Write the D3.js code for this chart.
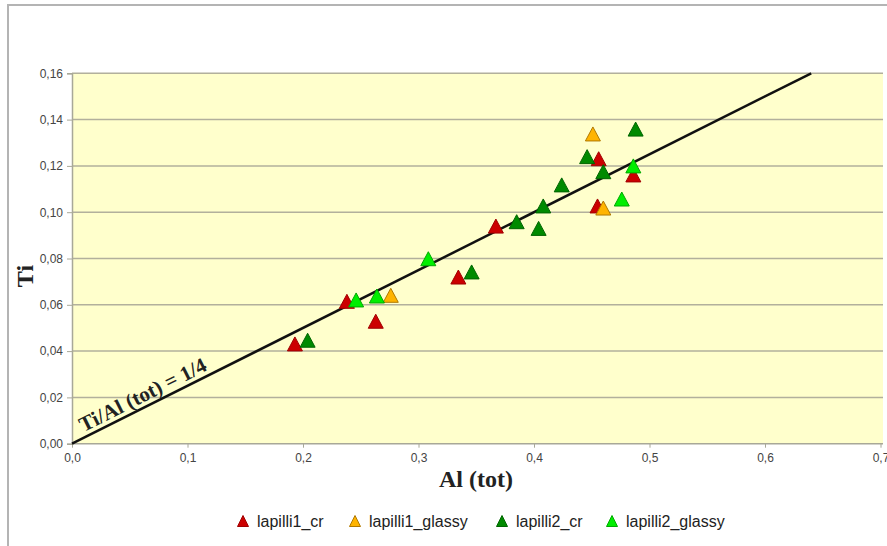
<!DOCTYPE html>
<html>
<head>
<meta charset="utf-8">
<script src="https://cdn.jsdelivr.net/npm/d3@7"></script>
<style>
  body { margin: 0; background: #fff; }
  svg { display: block; }
</style>
</head>
<body>
<div id="chart"></div>
<script>
// values: [Al (tot), Ti]
var lapilli1_cr = [[0.193, 0.0431], [0.238, 0.0615], [0.263, 0.0529], [0.3345, 0.0720],
                   [0.367, 0.0940], [0.456, 0.1231], [0.455, 0.1027], [0.486, 0.1161]];
var lapilli1_glassy = [[0.276, 0.0641], [0.451, 0.1338], [0.460, 0.1018]];
var lapilli2_cr = [[0.204, 0.0447], [0.346, 0.0742], [0.385, 0.0959], [0.404, 0.0930],
                   [0.408, 0.1027], [0.424, 0.1118], [0.446, 0.1240], [0.460, 0.1175],
                   [0.488, 0.1359]];
var lapilli2_glassy = [[0.246, 0.0621], [0.264, 0.0638], [0.3085, 0.0799], [0.476, 0.1057],
                       [0.486, 0.1200]];

var seriesNames = ["lapilli1_cr", "lapilli1_glassy", "lapilli2_cr", "lapilli2_glassy"];
var seriesFill = ["#cc0000", "#ffb400", "#008a00", "#00ee00"];
var seriesStroke = ["#a00000", "#b07800", "#006400", "#00a800"];
var seriesData = [lapilli1_cr, lapilli1_glassy, lapilli2_cr, lapilli2_glassy];

var xTicks = [0, 0.1, 0.2, 0.3, 0.4, 0.5, 0.6, 0.7];
var yTicks = [0, 0.02, 0.04, 0.06, 0.08, 0.10, 0.12, 0.14, 0.16];
var ratioLine = [[0, 0], [0.64, 0.16]];   // Ti/Al = 1/4

var W = 887, H = 546;
var svg = d3.select("#chart").append("svg").attr("width", W).attr("height", H);

// outer chart frame (cut at right/bottom)
svg.append("rect").attr("x", 8).attr("y", 5).attr("width", 1000).attr("height", 1000)
  .attr("fill", "#fff").attr("stroke", "#b4b4b4").attr("stroke-width", 2);

var x = d3.scaleLinear().domain([0, 0.7]).range([72, 880.5]);
var y = d3.scaleLinear().domain([0, 0.16]).range([443.7, 73.3]);

// plot background
svg.append("rect").attr("x", x(0)).attr("y", y(0.16))
  .attr("width", 883 - x(0)).attr("height", y(0) - y(0.16))
  .attr("fill", "#ffffcc");

// horizontal gridlines
svg.append("g").selectAll("line").data(yTicks.slice(1)).enter().append("line")
  .attr("x1", x(0)).attr("x2", 883)
  .attr("y1", function(d) { return y(d); }).attr("y2", function(d) { return y(d); })
  .attr("stroke", "#b2b09c").attr("stroke-width", 1.5);

// axes
var fmt = function(n) { return function(d) { return d.toFixed(n).replace(".", ","); }; };
var gx = svg.append("g").attr("transform", "translate(0," + y(0) + ")")
  .call(d3.axisBottom(x).tickValues(xTicks).tickFormat(fmt(1)).tickSize(4).tickPadding(6));
var gy = svg.append("g").attr("transform", "translate(" + x(0) + ",0)")
  .call(d3.axisLeft(y).tickValues(yTicks).tickFormat(fmt(2)).tickSize(5).tickPadding(4));
[gx, gy].forEach(function(g) {
  g.select(".domain").attr("stroke", "#a8a898").attr("stroke-width", 1.5);
  g.selectAll(".tick line").attr("stroke", "#a8a898");
  g.selectAll("text").attr("font-family", "Liberation Sans, Arial, sans-serif")
    .attr("font-size", 12).attr("fill", "#444");
});
gx.select(".domain").attr("d", "M" + x(0) + ",0H883");

// ratio line
svg.append("path").datum(ratioLine)
  .attr("d", d3.line().x(function(d) { return x(d[0]); }).y(function(d) { return y(d[1]); }))
  .attr("stroke", "#111").attr("stroke-width", 2.5).attr("fill", "none");

// line label
var ang = Math.atan2(y(0) - y(0.16), x(0.64) - x(0)) * 180 / Math.PI;
var lx = x(0.012), ly = y(0.012 / 4);
svg.append("text")
  .attr("transform", "translate(" + lx + "," + ly + ") rotate(" + (-ang) + ") translate(0,-5)")
  .attr("font-family", "Liberation Serif, Times New Roman, serif")
  .attr("font-weight", "bold").attr("font-size", 21).attr("fill", "#222")
  .text("Ti/Al (tot) = 1/4");

// triangle marker
function tri(w, h) {
  return "M0," + (-h / 2) + "L" + (w / 2) + "," + (h / 2) + "L" + (-w / 2) + "," + (h / 2) + "Z";
}

seriesData.forEach(function(data, i) {
  svg.append("g").selectAll("path").data(data).enter().append("path")
    .attr("d", tri(15, 14))
    .attr("transform", function(d) { return "translate(" + x(d[0]) + "," + y(d[1]) + ")"; })
    .attr("fill", seriesFill[i]).attr("stroke", seriesStroke[i]).attr("stroke-width", 1);
});

// axis titles
svg.append("text").attr("x", 476).attr("y", 487).attr("text-anchor", "middle")
  .attr("font-family", "Liberation Serif, Times New Roman, serif")
  .attr("font-weight", "bold").attr("font-size", 24).attr("fill", "#222")
  .text("Al (tot)");
svg.append("text").attr("transform", "translate(33,276) rotate(-90)").attr("text-anchor", "middle")
  .attr("font-family", "Liberation Serif, Times New Roman, serif")
  .attr("font-weight", "bold").attr("font-size", 24).attr("fill", "#222")
  .text("Ti");

// legend
var legX = [243, 355, 502, 612];
var leg = svg.append("g");
seriesNames.forEach(function(name, i) {
  leg.append("path").attr("d", tri(11, 11))
    .attr("transform", "translate(" + legX[i] + ",521)")
    .attr("fill", seriesFill[i]).attr("stroke", seriesStroke[i]).attr("stroke-width", 1);
  leg.append("text").attr("x", legX[i] + 14).attr("y", 527)
    .attr("font-family", "Liberation Sans, Arial, sans-serif")
    .attr("font-size", 16).attr("fill", "#222")
    .text(name);
});
</script>
</body>
</html>
